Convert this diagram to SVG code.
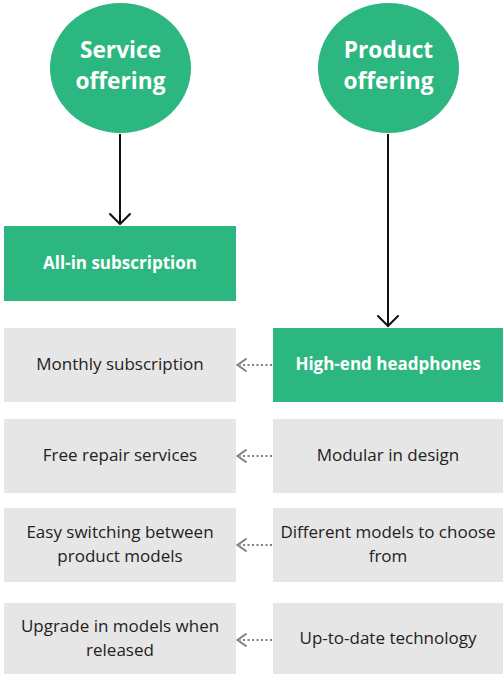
<svg xmlns="http://www.w3.org/2000/svg" width="503" height="674" viewBox="0 0 503 674">
  <style>
    .green { fill: #2db780; }
    .grey { fill: #e6e6e6; }
    .head { font-family: "Open Sans", "Noto Sans", sans-serif; font-weight: 700; font-size: 22.7px; fill: #ffffff; text-anchor: middle; }
    .bold { font-family: "Open Sans", "Noto Sans", sans-serif; font-weight: 700; font-size: 17px; fill: #ffffff; text-anchor: middle; }
    .label { font-family: "Open Sans", "Noto Sans", sans-serif; font-size: 17px; fill: #222222; text-anchor: middle; }
    .solid { stroke: #111111; stroke-width: 2; fill: none; }
    .dotted { stroke: #808080; stroke-width: 2; stroke-dasharray: 2 2.5; fill: none; }
    .chev { fill: none; stroke-width: 2; stroke-linecap: round; stroke-linejoin: miter; }
  </style>

  <!-- connectors -->
  <g id="connectors">
    <line class="solid" x1="120" y1="134" x2="120" y2="224"/>
    <polyline class="chev" stroke="#111111" points="110,214 120,224 130,214"/>
    <line class="solid" x1="388" y1="134" x2="388" y2="326"/>
    <polyline class="chev" stroke="#111111" points="378,316 388,326 398,316"/>

    <line class="dotted" x1="272" y1="365" x2="240" y2="365"/>
    <polyline class="chev" stroke="#808080" points="246,359 237.5,365 246,371"/>
    <line class="dotted" x1="272" y1="456" x2="240" y2="456"/>
    <polyline class="chev" stroke="#808080" points="246,450 237.5,456 246,462"/>
    <line class="dotted" x1="272" y1="545" x2="240" y2="545"/>
    <polyline class="chev" stroke="#808080" points="246,539 237.5,545 246,551"/>
    <line class="dotted" x1="272" y1="640" x2="240" y2="640"/>
    <polyline class="chev" stroke="#808080" points="246,634 237.5,640 246,646"/>
  </g>

  <!-- top-level offerings -->
  <g id="service-offering">
    <ellipse class="green" cx="120.5" cy="68" rx="70.5" ry="65"/>
    <text class="head" x="120.5" y="58">Service</text>
    <text class="head" x="120.5" y="89">offering</text>
  </g>
  <g id="product-offering">
    <ellipse class="green" cx="388.5" cy="68" rx="70.5" ry="65"/>
    <text class="head" x="388.5" y="58">Product</text>
    <text class="head" x="388.5" y="89">offering</text>
  </g>

  <!-- service column -->
  <g id="all-in-subscription">
    <rect class="green" x="4" y="226" width="232" height="75"/>
    <text class="bold" x="120" y="269">All-in subscription</text>
  </g>
  <g id="monthly-subscription">
    <rect class="grey" x="4" y="328" width="232" height="74"/>
    <text class="label" x="120" y="370">Monthly subscription</text>
  </g>
  <g id="free-repair">
    <rect class="grey" x="4" y="419" width="232" height="74"/>
    <text class="label" x="120" y="461">Free repair services</text>
  </g>
  <g id="easy-switching">
    <rect class="grey" x="4" y="508" width="232" height="74"/>
    <text class="label" x="120" y="538">Easy switching between</text>
    <text class="label" x="120" y="562">product models</text>
  </g>
  <g id="upgrade-models">
    <rect class="grey" x="4" y="603" width="232" height="71"/>
    <text class="label" x="120" y="632">Upgrade in models when</text>
    <text class="label" x="120" y="656">released</text>
  </g>

  <!-- product column -->
  <g id="high-end-headphones">
    <rect class="green" x="273" y="328" width="230" height="74"/>
    <text class="bold" x="388" y="370">High-end headphones</text>
  </g>
  <g id="modular-design">
    <rect class="grey" x="273" y="419" width="230" height="74"/>
    <text class="label" x="388" y="461">Modular in design</text>
  </g>
  <g id="different-models">
    <rect class="grey" x="273" y="508" width="230" height="74"/>
    <text class="label" x="388" y="538">Different models to choose</text>
    <text class="label" x="388" y="562">from</text>
  </g>
  <g id="up-to-date">
    <rect class="grey" x="273" y="603" width="230" height="71"/>
    <text class="label" x="388" y="644">Up-to-date technology</text>
  </g>
</svg>
